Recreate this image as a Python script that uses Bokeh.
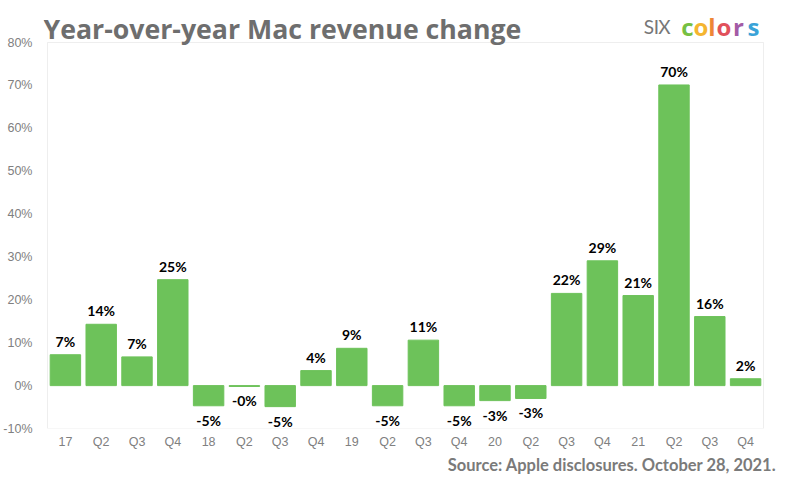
from bokeh.plotting import figure
from bokeh.models import ColumnDataSource, FixedTicker, Label, Range1d, Title, BoxAnnotation
from bokeh.core.properties import value
from bokeh.embed import file_html
from bokeh.resources import INLINE

quarters = ["17", "Q2", "Q3", "Q4", "18", "Q2", "Q3", "Q4", "19", "Q2",
            "Q3", "Q4", "20", "Q2", "Q3", "Q4", "21", "Q2", "Q3", "Q4"]
changes = [7.2, 14.3, 6.7, 24.7, -4.7, -0.2, -4.9, 3.5, 8.7, -4.7,
           10.6, -4.7, -3.5, -3.0, 21.5, 29.1, 21.0, 70.1, 16.1, 1.6]
labels = ["7%", "14%", "7%", "25%", "-5%", "-0%", "-5%", "4%", "9%", "-5%",
          "11%", "-5%", "-3%", "-3%", "22%", "29%", "21%", "70%", "16%", "2%"]
y_ticks = [-10, 0, 10, 20, 30, 40, 50, 60, 70, 80]
title_text = "Year-over-year Mac revenue change"
source_text = "Source: Apple disclosures. October 28, 2021."

xs = list(range(len(quarters)))
GREEN = "#6dc25a"
GRAY = "#808080"

# geometry: visible chart box is 716 x 386 px; the frame is extended so that
# the header (title + logo) can live inside it without being clipped.
n = len(quarters)
box_w, box_h = 716, 386
x_lo, x_hi = -0.5, n - 0.5
y_lo, y_hi = min(y_ticks), max(y_ticks)
ppx = box_w / (x_hi - x_lo)
ppy = box_h / (y_hi - y_lo)
ext_left, ext_right, ext_top = 4, 20, 34

p = figure(frame_width=box_w + ext_left + ext_right, frame_height=box_h + ext_top,
           output_backend="svg", toolbar_location=None,
           x_range=Range1d(x_lo - ext_left / ppx, x_hi + ext_right / ppx),
           y_range=Range1d(y_lo, y_hi + ext_top / ppy),
           min_border_left=36, min_border_right=8, min_border_top=8, min_border_bottom=52)
p.outline_line_color = None
p.grid.visible = False

p.add_layout(BoxAnnotation(left=x_lo, right=x_hi, bottom=y_lo, top=y_hi,
                           fill_alpha=0, line_color="#c8c8c8", line_width=1,
                           level="underlay"))

src = ColumnDataSource(dict(x=xs, top=changes))
p.vbar(x="x", top="top", bottom=0, width=0.85, color=GREEN, source=src)

pos_src = ColumnDataSource(dict(x=[x for x, c in zip(xs, changes) if c >= 0],
                                y=[c for c in changes if c >= 0],
                                t=[l for l, c in zip(labels, changes) if c >= 0]))
neg_src = ColumnDataSource(dict(x=[x for x, c in zip(xs, changes) if c < 0],
                                y=[c for c in changes if c < 0],
                                t=[l for l, c in zip(labels, changes) if c < 0]))
p.text(x="x", y="y", text="t", source=pos_src, text_align="center", text_baseline="bottom",
       y_offset=-5, text_font=value("Lato"), text_font_style="bold", text_font_size="14px",
       text_color="black")
p.text(x="x", y="y", text="t", source=neg_src, text_align="center", text_baseline="top",
       y_offset=6, text_font=value("Lato"), text_font_style="bold", text_font_size="14px",
       text_color="black")

p.yaxis.ticker = FixedTicker(ticks=y_ticks)
p.yaxis.major_label_overrides = {t: f"{t}%" for t in y_ticks}
p.xaxis.ticker = FixedTicker(ticks=xs)
p.xaxis.major_label_overrides = {i: q for i, q in enumerate(quarters)}
for ax in (p.xaxis, p.yaxis):
    ax.axis_line_color = None
    ax.major_tick_line_color = None
    ax.minor_tick_line_color = None
    ax.major_tick_out = 0
    ax.major_tick_in = 0
    ax.minor_tick_out = 0
    ax.minor_tick_in = 0
    ax.major_label_text_color = GRAY
    ax.major_label_text_font = "Liberation Sans"
    ax.major_label_text_font_size = "12.5px"
p.yaxis.major_label_standoff = 11
p.xaxis.major_label_standoff = 6

# header, positioned in frame-relative screen pixels
p.add_layout(Label(x=0, y=box_h + 14, x_units="screen", y_units="screen",
                   text=title_text, text_font="Open Sans", text_font_style="bold",
                   text_font_size="26.7px", text_color="#6e6e6e", text_baseline="alphabetic"))
logo = [("S", 605.5, "#777777", "normal"), ("I", 613, "#777777", "normal"),
        ("X", 621, "#777777", "normal"),
        ("c", 644, "#76c043", "bold"), ("o", 657.5, "#f4b52f", "bold"),
        ("l", 668.5, "#ee8636", "bold"), ("o", 680.5, "#e1515a", "bold"),
        ("r", 695, "#a35ba6", "bold"), ("s", 710, "#3aa3d8", "bold")]
for ch, cx, col, st in logo:
    p.add_layout(Label(x=cx, y=box_h + 16, x_units="screen", y_units="screen",
                       text=ch, text_font="Open Sans" if st == "bold" else "Lato",
                       text_font_style=st,
                       text_font_size="24px" if st == "bold" else "19px",
                       text_color=col, text_align="center", text_baseline="alphabetic"))

p.add_layout(Title(text=source_text, align="right", offset=7, standoff=2,
                   text_font="Lato", text_font_style="bold", text_font_size="16.5px",
                   text_color="#7a7a7a"), "below")

open("out.html", "w").write(file_html(p, INLINE))
